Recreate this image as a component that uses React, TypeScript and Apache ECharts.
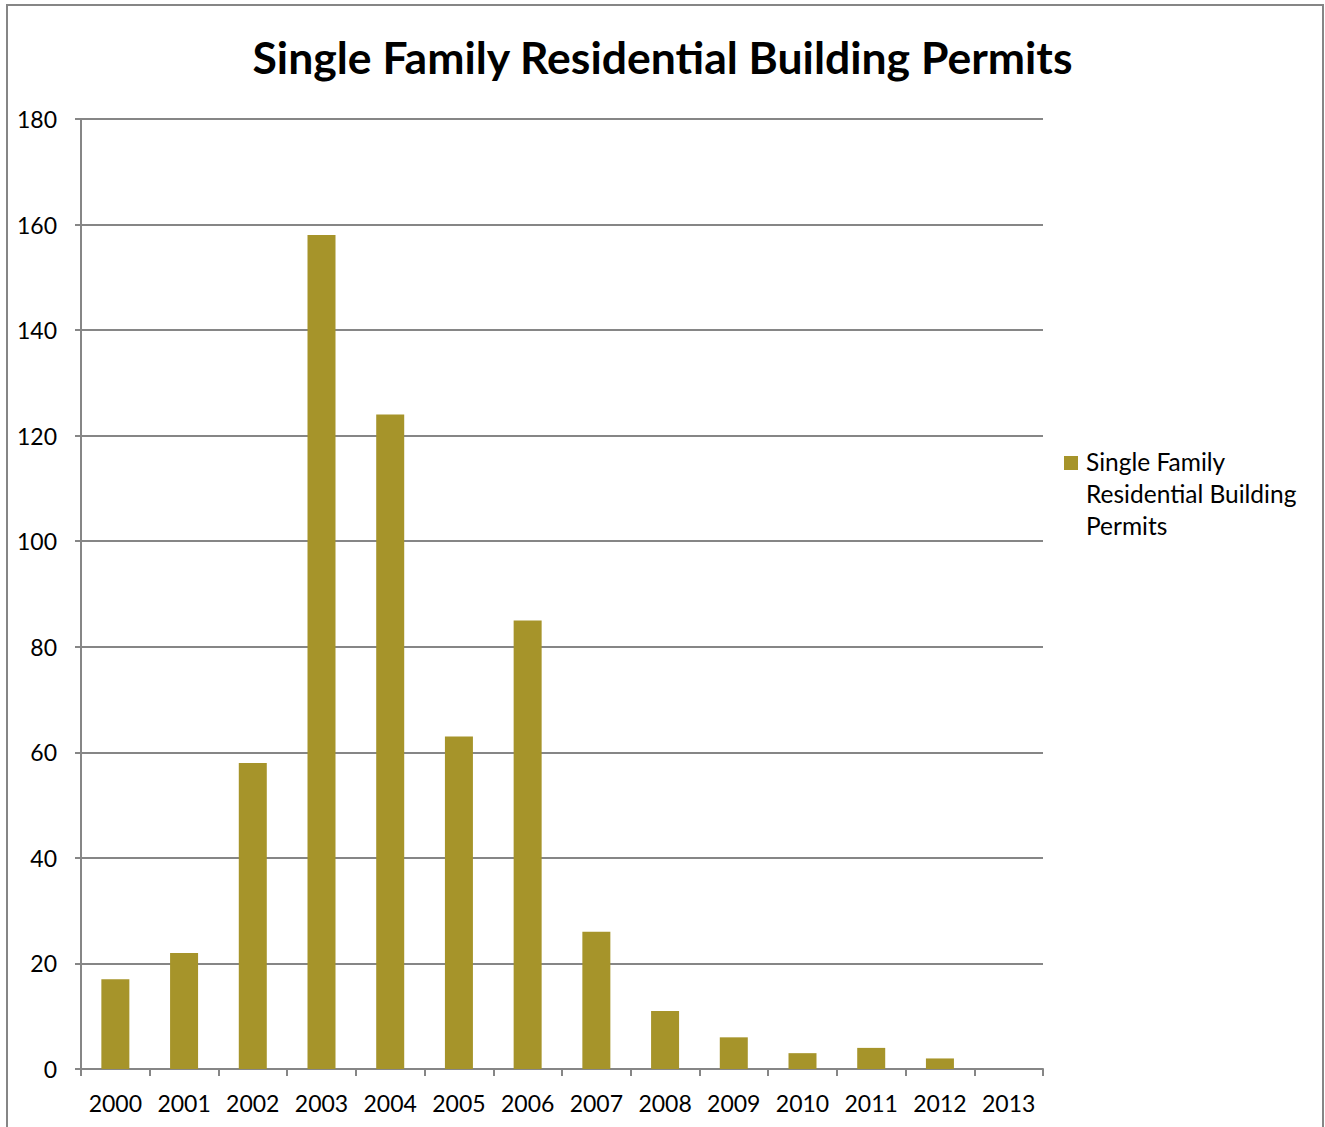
import React, { useEffect, useRef } from "react";
import * as echarts from "echarts";

const years = ["2000", "2001", "2002", "2003", "2004", "2005", "2006", "2007", "2008", "2009", "2010", "2011", "2012", "2013"];
const permits = [17, 22, 58, 158, 124, 63, 85, 26, 11, 6, 3, 4, 2, 0];
const seriesName = "Single Family Residential Building Permits";
const legendLines = ["Single Family", "Residential Building", "Permits"];
const titleText = "Single Family Residential Building Permits";

export default function App() {
  const ref = useRef<HTMLDivElement>(null);
  useEffect(() => {
    const chart = echarts.init(ref.current!, null, { renderer: "svg" });
    const font = "Lato, 'Open Sans', sans-serif";
    const barColor = "#A6942A";
    chart.setOption({
      animation: false,
      backgroundColor: "#ffffff",
      textStyle: { fontFamily: font },
      title: {
        text: titleText,
        left: "center",
        top: 29,
        textStyle: { fontFamily: font, fontSize: 44.5, fontWeight: "bold", color: "#000" },
      },
      graphic: [
        {
          type: "rect",
          shape: { x: 7, y: 5, width: 1316, height: 1140 },
          style: { fill: "none", stroke: "#868686", lineWidth: 2 },
          silent: true,
        },
        {
          type: "rect",
          shape: { x: 1064, y: 456, width: 14, height: 14 },
          style: { fill: barColor },
          silent: true,
        },
        {
          type: "text",
          x: 1086,
          y: 445,
          style: {
            text: legendLines.join("\n"),
            fontFamily: font,
            fontSize: 24.5,
            lineHeight: 32,
            fill: "#000",
            verticalAlign: "top",
            align: "left",
          },
          silent: true,
        },
      ],
      grid: { left: 81, right: 282, top: 119, bottom: 58, containLabel: false },
      xAxis: {
        type: "category",
        data: years,
        boundaryGap: true,
        axisLine: { lineStyle: { color: "#868686", width: 2 } },
        axisTick: { show: true, length: 7, lineStyle: { color: "#868686", width: 2 } },
        axisLabel: { color: "#000", fontSize: 23, fontFamily: font, margin: 22, interval: 0 },
      },
      yAxis: {
        type: "value",
        min: 0,
        max: 180,
        interval: 20,
        axisLine: { show: true, lineStyle: { color: "#868686", width: 2 } },
        axisTick: { show: true, length: 6, lineStyle: { color: "#868686", width: 2 } },
        axisLabel: { color: "#000", fontSize: 23, fontFamily: font, margin: 24 },
        splitLine: { show: true, lineStyle: { color: "#868686", width: 2 } },
      },
      series: [
        {
          name: seriesName,
          type: "bar",
          data: permits,
          barWidth: 28,
          itemStyle: { color: barColor },
        },
      ],
    });
    return () => chart.dispose();
  }, []);
  return (
    <div
      ref={ref}
      style={{ position: "fixed", left: 0, top: 0, width: 1325, height: 1127 }}
    />
  );
}
